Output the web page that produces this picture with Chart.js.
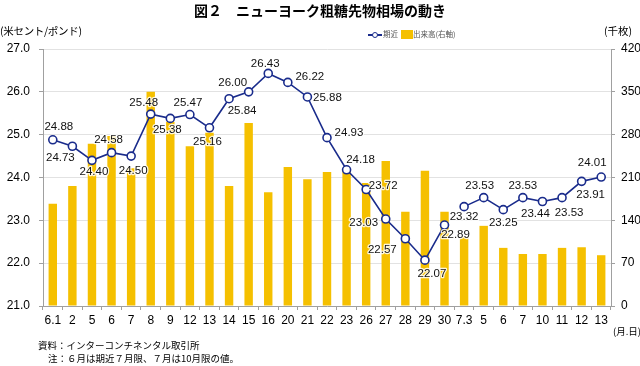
<!DOCTYPE html>
<html><head><meta charset="utf-8">
<script src="https://cdn.jsdelivr.net/npm/chart.js@4"></script>
<style>
html,body{margin:0;padding:0;background:#fff;}
#wrap{position:relative;width:640px;height:366px;overflow:hidden;font-family:"Noto Sans CJK JP","Liberation Sans",sans-serif;color:#000;}
canvas{position:absolute;left:0;top:0;}
.t{position:absolute;white-space:nowrap;line-height:1;}
</style></head>
<body><div id="wrap">
<canvas id="c" width="640" height="366"></canvas>
<div class="t" style="left:0;width:640px;text-align:center;top:3px;font-size:14px;font-weight:bold;padding-left:0px;">図２　ニューヨーク粗糖先物相場の動き</div>
<div class="t" style="left:0;top:26px;font-size:10.5px;letter-spacing:-0.3px;">(米セント/ポンド)</div>
<div class="t" style="left:604px;top:26px;font-size:10.5px;">(千枚)</div>
<div class="t" style="left:613px;top:327px;font-size:9.5px;">(月.日)</div>
<div class="t" style="left:38px;top:341px;font-size:9.5px;">資料：インターコンチネンタル取引所</div>
<div class="t" style="left:48px;top:354px;font-size:9.5px;">注：６月は期近７月限、７月は10月限の値。</div>
<div style="position:absolute;left:368px;top:34px;width:14px;height:1.5px;background:#1A2C8C;"></div>
<div style="position:absolute;left:372px;top:32px;width:4px;height:4px;border:1px solid #1A2C8C;border-radius:50%;background:#fff;"></div>
<div class="t" style="left:383px;top:30px;font-size:7.5px;color:#555;">期近</div>
<div style="position:absolute;left:401px;top:30px;width:12px;height:9px;background:#F5C000;"></div>
<div class="t" style="left:413px;top:30px;font-size:7.5px;color:#555;">出来高(右軸)</div>
</div>
<script>
const categories = ['6.1','2','5','6','7','8','9','12','13','14','15','16','20','21','22','23','26','27','28','29','30','7.3','5','6','7','10','11','12','13'];
const priceValues = [24.88,24.73,24.40,24.58,24.50,25.48,25.38,25.47,25.16,25.84,26.00,26.43,26.22,25.88,24.93,24.18,23.72,23.03,22.57,22.07,22.89,23.32,23.53,23.25,23.53,23.44,23.53,23.91,24.01];
const volumeValues = [167,196,265,278,225,350,301,261,283,196,299,186,227,207,219,222,201,237,154,221,154,113,131,95,85,85,95,96,83];
const leftTicks = [21,22,23,24,25,26,27];
const rightTicks = [0,70,140,210,280,350,420];
const contractBreakIndex = 20; // line not joined between 30 (Jun) and 7.3 (Jul contract)
// label placement offsets (dx, dy) relative to each point
const labelOffsets = [[6,-13],[-12,12],[2,11],[-3,-13],[2,15],[-7,-11],[-3,11],[-2,-12],[-2,14],[13,12],[-16,-9],[-3,-10],[22,-6],[20,1],[22,-5],[14,-10],[17,-4],[-22,4],[-23,11],[7,14],[11,10],[0,10],[-4,-12],[0,13],[0,-12],[-7,12],[7,15],[9,13],[-9,-14]];

const LINE='#1A2C8C', BAR='#F5C000', GRID='#E2E2E2', AX='#A0A0A0';
const FONT = '"Liberation Sans", Arial, sans-serif';

const labelPlugin = {
  id:'pointLabels',
  afterDatasetsDraw(chart){
    const meta = chart.getDatasetMeta(0);
    const ctx = chart.ctx;
    ctx.save();
    ctx.font = '11.5px ' + FONT;
    ctx.textAlign='center'; ctx.textBaseline='middle';
    meta.data.forEach((pt,i)=>{
      const v = priceValues[i];
      const o = labelOffsets[i];
      const x = pt.x + o[0], y = pt.y + o[1];
      const s = v.toFixed(2);
      ctx.lineWidth = 2.5; ctx.strokeStyle='rgba(255,255,255,0.85)'; ctx.lineJoin='round';
      ctx.strokeText(s,x,y);
      ctx.fillStyle='#111';
      ctx.fillText(s,x,y);
    });
    ctx.restore();
  }
};

new Chart(document.getElementById('c'),{
  data:{
    labels: categories,
    datasets:[
      {type:'line', label:'期近', data:priceValues, yAxisID:'y', borderColor:LINE, borderWidth:1.6,
       pointRadius:4, pointBackgroundColor:'#fff', pointBorderColor:LINE, pointBorderWidth:1.6, tension:0, order:0,
       segment:{borderColor: c => c.p0DataIndex===contractBreakIndex ? 'rgba(0,0,0,0)' : LINE}},
      {type:'bar', label:'出来高(右軸)', data:volumeValues, yAxisID:'y2', backgroundColor:BAR,
       barPercentage:0.43, categoryPercentage:1.0, order:1}
    ]
  },
  options:{
    responsive:false, animation:false, devicePixelRatio:1,
    layout:{padding:{top:49,left:0,right:0,bottom:0}},
    plugins:{legend:{display:false}, title:{display:false}, tooltip:{enabled:false}},
    scales:{
      x:{offset:true, grid:{offset:true, drawOnChartArea:false, tickLength:4, color:AX},
         border:{color:AX},
         ticks:{font:{family:FONT,size:12}, color:'#000', padding:3, maxRotation:0, autoSkip:false},
         afterFit(s){ s.height = 60; }},
      y:{position:'left', min:21, max:27,
         afterBuildTicks(s){ s.ticks = leftTicks.map(v=>({value:v})); },
         grid:{color:GRID, tickLength:4, tickColor:AX}, border:{color:AX},
         ticks:{font:{family:FONT,size:12}, color:'#000', padding:9, callback:v=>v.toFixed(1)},
         afterFit(s){ s.width = 43; }},
      y2:{position:'right', min:0, max:420,
         afterBuildTicks(s){ s.ticks = rightTicks.map(v=>({value:v})); },
         grid:{drawOnChartArea:false, tickLength:4, color:AX}, border:{color:AX},
         ticks:{font:{family:FONT,size:12}, color:'#000', padding:6},
         afterFit(s){ s.width = 29; }}
    }
  },
  plugins:[labelPlugin]
});
</script>
</body></html>
